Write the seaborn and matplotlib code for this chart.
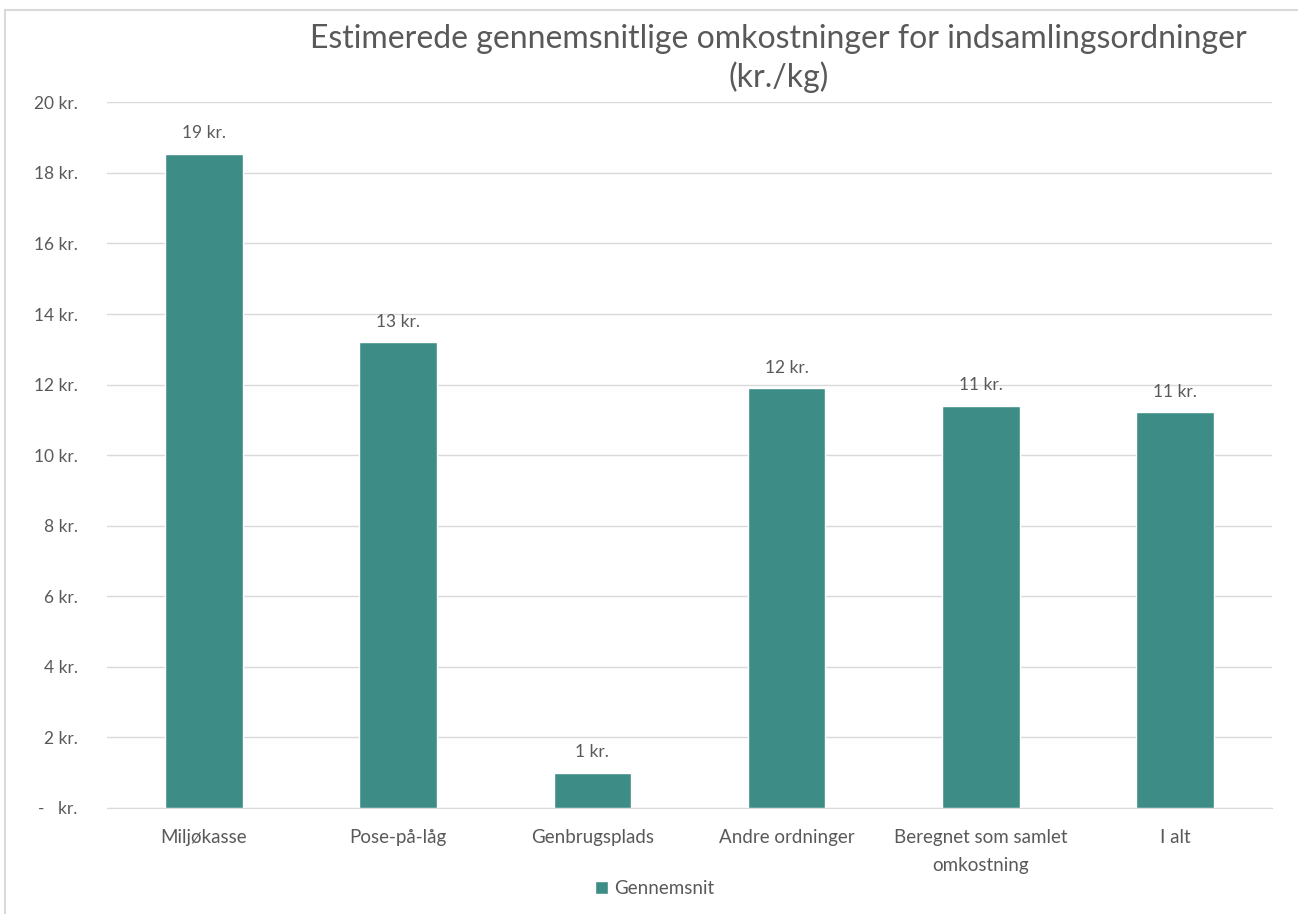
import pandas as pd
import matplotlib.pyplot as plt
import seaborn as sns
from matplotlib.patches import Rectangle

categories = ["Miljøkasse", "Pose-på-låg", "Genbrugsplads", "Andre ordninger",
              "Beregnet som samlet\nomkostning", "I alt"]
values = [18.55, 13.2, 1.0, 11.9, 11.4, 11.22]
series_name = "Gennemsnit"
yticks = [0, 2, 4, 6, 8, 10, 12, 14, 16, 18, 20]
ytick_labels = ["-   kr."] + [f"{v} kr." for v in yticks[1:]]

bar_color = "#3d8c86"
text_color = "#595959"
grid_color = "#d9d9d9"

sns.set_style("white")
plt.rcParams["font.family"] = ["Lato", "DejaVu Sans"]

df = pd.DataFrame({"kategori": categories, "kr": values, "serie": series_name})

fig = plt.figure(figsize=(12.98, 9.14), dpi=100)
ax = fig.add_axes([0.0824, 0.116, 0.8976, 0.772])

sns.barplot(data=df, x="kategori", y="kr", hue="serie", palette=[bar_color],
            width=0.4, ax=ax, saturation=1, zorder=3)

ax.set_ylim(0, 20)
ax.set_xlim(-0.5, len(categories) - 0.5)
ax.set_yticks(yticks)
ax.set_yticklabels(ytick_labels, color=text_color, fontsize=12.5)
ax.tick_params(axis="y", length=0, pad=21)
ax.tick_params(axis="x", length=0, pad=15, labelsize=13.5, labelcolor=text_color)
for lbl in ax.get_xticklabels():
    lbl.set_linespacing(1.8)
ax.set_xlabel("")
ax.set_ylabel("")
ax.grid(axis="y", color=grid_color, linewidth=1, zorder=0)
for s in ["top", "right", "left"]:
    ax.spines[s].set_visible(False)
ax.spines["bottom"].set_color(grid_color)

for i, v in enumerate(values):
    ax.annotate(f"{round(v):.0f} kr.", (i, v), xytext=(0, 9), textcoords="offset points",
                ha="center", va="bottom", fontsize=12.5, color=text_color)

ax.legend(loc="upper center", bbox_to_anchor=(0.47, -0.078), frameon=False,
          fontsize=13.5, handlelength=0.7, handleheight=0.7, handletextpad=0.3,
          labelcolor=text_color)

fig.text(0.6, 0.957, "Estimerede gennemsnitlige omkostninger for indsamlingsordninger",
         ha="center", va="center", fontsize=23, color=text_color)
fig.text(0.6, 0.915, "(kr./kg)", ha="center", va="center", fontsize=23, color=text_color)

fig.patches.append(Rectangle((0.004, -0.01), 1.2, 0.999, transform=fig.transFigure,
                             fill=False, edgecolor=grid_color, linewidth=1.5))

fig.savefig("out.png", dpi=100)
